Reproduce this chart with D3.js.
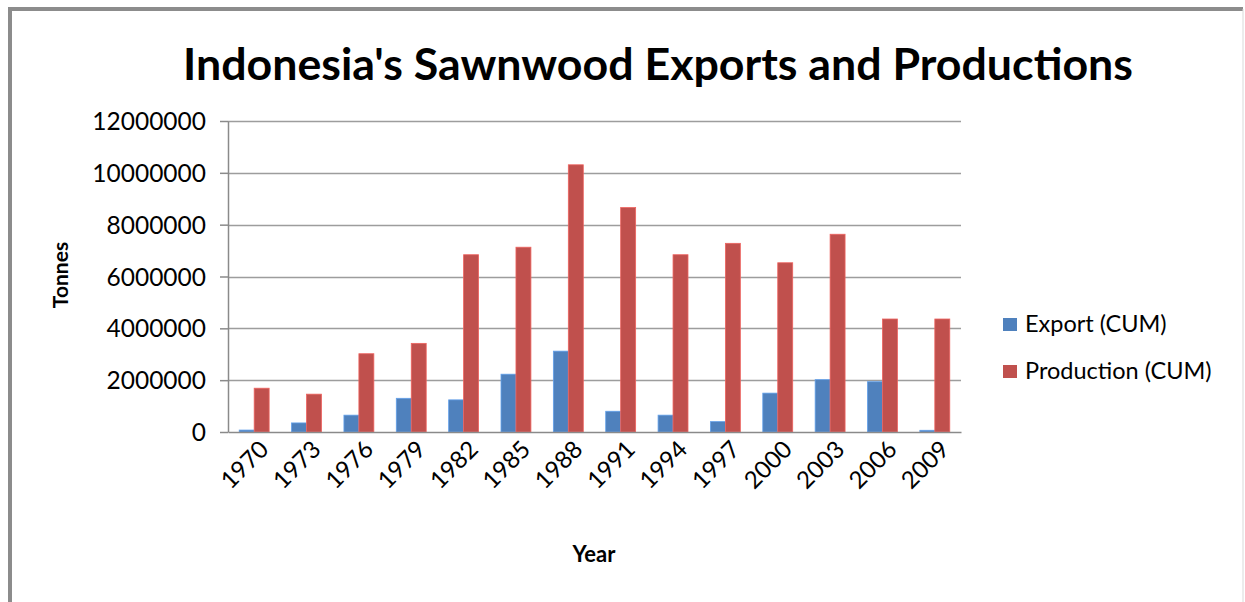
<!DOCTYPE html>
<html>
<head>
<meta charset="utf-8">
<script src="https://cdn.jsdelivr.net/npm/d3@7"></script>
<style>
  html, body { margin: 0; padding: 0; background: #fff; }
  svg { display: block; }
  text { font-family: Lato, "Open Sans", sans-serif; fill: #000; }
</style>
</head>
<body>
<svg id="chart" width="1245" height="602"></svg>
<script>
const years = ["1970","1973","1976","1979","1982","1985","1988","1991","1994","1997","2000","2003","2006","2009"];
const exportCUM = [75000, 350000, 650000, 1300000, 1240000, 2230000, 3120000, 800000, 650000, 400000, 1500000, 2020000, 1940000, 66000];
const productionCUM = [1690000, 1460000, 3020000, 3420000, 6840000, 7130000, 10310000, 8660000, 6840000, 7280000, 6530000, 7630000, 4360000, 4360000];
const seriesNames = ["Export (CUM)", "Production (CUM)"];
const seriesColors = ["#4F81BD", "#C0504D"];
const yTicks = [0, 2000000, 4000000, 6000000, 8000000, 10000000, 12000000];
const titleText = "Indonesia's Sawnwood Exports and Productions";
const xTitle = "Year";
const yTitle = "Tonnes";

const svg = d3.select("#chart");
const W = 1245, H = 602;
const plot = { left: 228, right: 961, top: 121, bottom: 432 };

// outer frame
svg.append("rect").attr("x", 0).attr("y", 0).attr("width", W).attr("height", H).attr("fill", "#fff");
svg.append("path")
  .attr("d", `M10,${H + 5} L10,9 L${W - 2},9`)
  .attr("fill", "none").attr("stroke", "#8c8c8c").attr("stroke-width", 4);
svg.append("line").attr("x1", W - 2).attr("x2", W - 2).attr("y1", 9).attr("y2", H)
  .attr("stroke", "#d9d9d9").attr("stroke-width", 1);

const x0 = d3.scaleBand().domain(years).range([plot.left, plot.right]).paddingInner(0).paddingOuter(0);
const barW = x0.bandwidth() / 3.5;
const x1 = d3.scaleBand().domain(seriesNames).range([barW * 0.75, barW * 2.75]).padding(0);
const y = d3.scaleLinear().domain([0, 12000000]).range([plot.bottom, plot.top]);

// gridlines
svg.append("g").selectAll("line").data(yTicks.filter(d => d > 0)).join("line")
  .attr("x1", plot.left).attr("x2", plot.right)
  .attr("y1", d => Math.round(y(d)) + 0.5).attr("y2", d => Math.round(y(d)) + 0.5)
  .attr("stroke", "#9d9d9d").attr("stroke-width", 1.5);

// bars
const data = years.map((yr, i) => ({ yr, vals: [exportCUM[i], productionCUM[i]] }));
const groups = svg.append("g").selectAll("g").data(data).join("g")
  .attr("transform", d => `translate(${x0(d.yr)},0)`);
groups.selectAll("rect").data(d => d.vals.map((v, j) => ({ v, s: seriesNames[j], c: seriesColors[j] })))
  .join("rect")
  .attr("x", d => x1(d.s))
  .attr("width", x1.bandwidth())
  .attr("y", d => y(d.v))
  .attr("height", d => y(0) - y(d.v))
  .attr("fill", d => d.c)
  .attr("stroke", d => d3.color(d.c).brighter(0.6))
  .attr("stroke-width", 0.8);

// y axis
const yAxis = d3.axisLeft(y).tickValues(yTicks).tickFormat(d3.format("d")).tickSizeInner(8).tickSizeOuter(0).tickPadding(14);
const gy = svg.append("g").attr("transform", `translate(${plot.left},0)`).call(yAxis);
gy.select(".domain").attr("stroke", "#8a8a8a").attr("stroke-width", 1.5);
gy.selectAll(".tick line").attr("stroke", "#8a8a8a").attr("stroke-width", 1.5);
gy.selectAll(".tick text").style("font-size", "24.5px").style("font-family", "Lato").attr("fill", "#000").attr("dy", "0.35em");

// x axis
const xAxis = d3.axisBottom(x0).tickSize(0).tickSizeOuter(0).tickPadding(0);
const gx = svg.append("g").attr("transform", `translate(0,${plot.bottom})`).call(xAxis);
gx.select(".domain").attr("stroke", "#8a8a8a").attr("stroke-width", 1.5);
gx.selectAll(".tick text")
  .style("font-size", "24px").style("font-family", "Lato").attr("fill", "#000")
  .attr("text-anchor", "end")
  .attr("transform", "translate(4,7) rotate(-45)")
  .attr("dy", "0.7em").attr("y", 0).attr("x", 0);

// title
const t = svg.append("text").attr("x", 658).attr("y", 80).attr("text-anchor", "middle")
  .style("font-size", "44px").style("font-weight", "bold").text(titleText);
const tl = t.node().getComputedTextLength();
t.style("font-size", (44 * 950 / tl).toFixed(2) + "px");

// axis titles
svg.append("text").attr("x", 594).attr("y", 562).attr("text-anchor", "middle")
  .style("font-size", "22px").style("font-weight", "bold").text(xTitle);
svg.append("text").attr("transform", "translate(68,275) rotate(-90)").attr("text-anchor", "middle")
  .style("font-size", "21px").style("font-weight", "bold").text(yTitle);

// legend
const lg = svg.append("g").selectAll("g").data(seriesNames).join("g")
  .attr("transform", (d, i) => `translate(1003,${318 + i * 47})`);
lg.append("rect").attr("width", 14).attr("height", 13).attr("fill", (d, i) => seriesColors[i]);
lg.append("text").attr("x", 22).attr("y", 14).style("font-size", "23.5px").text(d => d);
</script>
</body>
</html>
